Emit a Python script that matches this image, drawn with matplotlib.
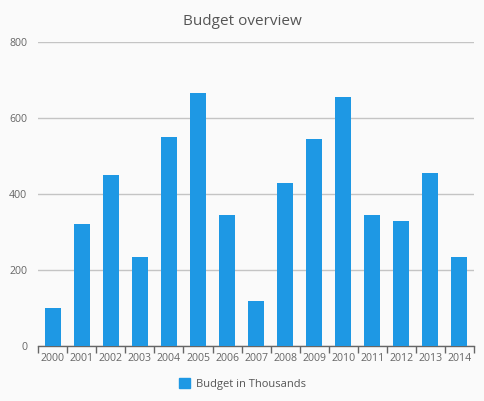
import numpy as np
import matplotlib
matplotlib.use("Agg")
import matplotlib.pyplot as plt
from matplotlib.patches import Patch

years = ["2000", "2001", "2002", "2003", "2004", "2005", "2006", "2007",
         "2008", "2009", "2010", "2011", "2012", "2013", "2014"]
budget = [100, 320, 450, 235, 550, 665, 345, 120, 430, 545, 655, 345, 330, 455, 235]
yticks = [0, 200, 400, 600, 800]

plt.rcParams['font.family'] = ['Open Sans', 'DejaVu Sans']

bg = "#fafafa"
blue = "#1e98e4"

fig = plt.figure(figsize=(4.85, 4.01), dpi=100, facecolor=bg)
ax = fig.add_axes([0.079, 0.1364, 0.898, 0.7596], facecolor=bg)

x = np.arange(len(years))
ax.bar(x, budget, width=0.55, color=blue, zorder=3)

ax.set_xlim(-0.5, len(years) - 0.5)
ax.set_ylim(0, 800)
ax.set_yticks(yticks)
ax.set_yticklabels([str(v) for v in yticks])
ax.grid(axis="y", color="#c4c4c4", linewidth=1, zorder=0)

ax.set_xticks(x)
ax.set_xticklabels(years)
ax.set_xticks(np.arange(len(years) + 1) - 0.5, minor=True)
ax.tick_params(axis="x", which="major", length=0, pad=5, labelsize=7.6, labelcolor="#666666")
ax.tick_params(axis="x", which="minor", length=5, width=1, color="#666666")
ax.tick_params(axis="y", length=0, pad=8, labelsize=7.6, labelcolor="#666666")

for s in ["top", "right", "left"]:
    ax.spines[s].set_visible(False)
ax.spines["bottom"].set_color("#666666")
ax.spines["bottom"].set_linewidth(1)

fig.text(0.5, 0.947, "Budget overview", ha="center", va="center", fontsize=11, color="#555555")

leg = fig.legend(handles=[Patch(color=blue, label="Budget in Thousands")],
                 loc="center", bbox_to_anchor=(0.5, 0.043), frameon=False,
                 fontsize=8, handlelength=0.95, handleheight=0.95, handletextpad=0.5)
for t in leg.get_texts():
    t.set_color("#555555")

fig.savefig("out.png", dpi=100, facecolor=bg)
